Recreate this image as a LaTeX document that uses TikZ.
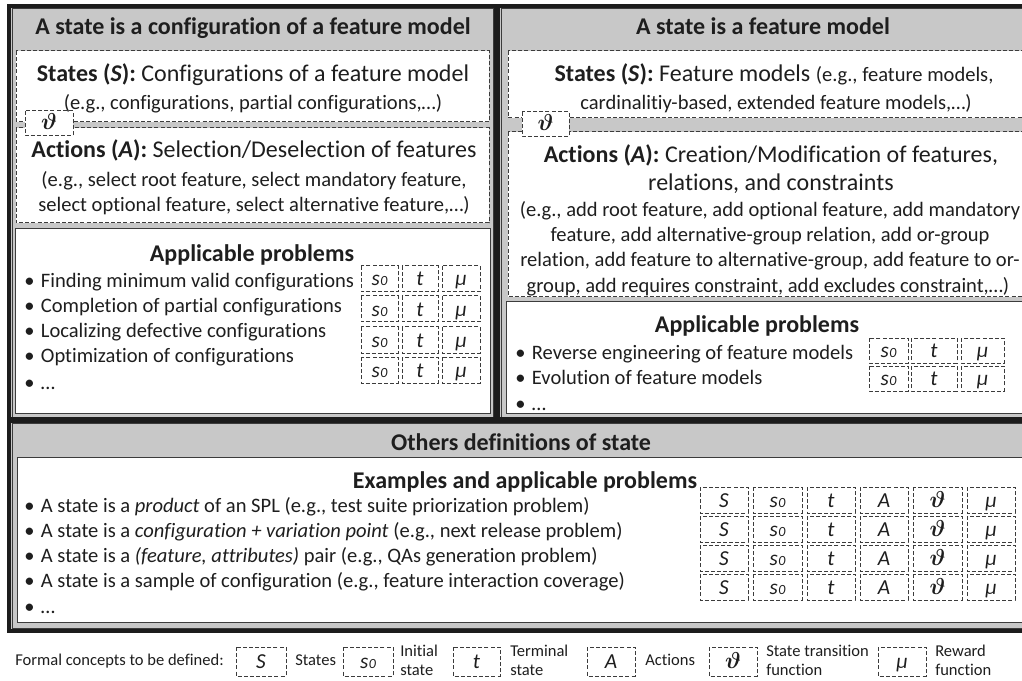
\documentclass[tikz,border=0pt]{standalone}
\usepackage{fontspec}
\setmainfont{Carlito}[Ligatures=NoCommon]

\definecolor{panelgray}{RGB}{200,200,200}
\definecolor{framedark}{RGB}{28,28,28}
\definecolor{edgegray}{RGB}{60,60,60}
\definecolor{inkgray}{RGB}{30,30,30}

% font sizes (1px = 0.75pt)
\newcommand\fhead{\fontsize{18pt}{21pt}\selectfont\bfseries}
\newcommand\fbig{\fontsize{18pt}{21pt}\selectfont}
\newcommand\fbody{\fontsize{15.4pt}{18.75pt}\selectfont}
\newcommand\fsym{\fontsize{16pt}{18pt}\selectfont\itshape}
\newcommand\flegend{\fontsize{12.4pt}{14pt}\selectfont}

% formal-concept symbols
\newcommand\symS{S}
\newcommand\symso{s\kern0.4pt{\fontsize{10.5pt}{10.5pt}\selectfont 0}}
\newcommand\symt{t}
\newcommand\symA{A}
\newcommand\symth{{\boldmath$\vartheta$}}
\newcommand\symmu{μ}

\tikzset{
  panelfill/.style={fill=panelgray},
  paneledge/.style={draw=edgegray, line width=0.75pt},
  heavyrule/.style={draw=framedark, line width=3pt},
  dashbox/.style={draw=edgegray, line width=0.75pt, dash pattern=on 3pt off 1.6pt, fill=white},
  solidbox/.style={draw=edgegray, line width=0.75pt, fill=white},
  txt/.style={inner sep=0pt, anchor=base, text=inkgray},
  item/.style={inner sep=0pt, anchor=base west, text=inkgray, font=\fbody},
  symtext/.style={inner sep=0pt, anchor=base, text=inkgray, font=\fsym},
  legtext/.style={inner sep=0pt, anchor=base west, text=inkgray, font=\flegend},
}

% dashed cell with a symbol set on a common baseline: name, x1, y1, x2, y2, symbol
\newcommand\cellbox[6]{%
  \draw[dashbox] (#2,#3) rectangle (#4,#5);
  \node[symtext] (#1) at ({(#2+#4)/2},{(#3+#5)/2+7}) {#6};}

\newcommand\bul{\makebox[12.5pt][l]{•}}

\begin{document}
\begin{tikzpicture}[x=0.75pt,y=-0.75pt]
\useasboundingbox (0,0) rectangle (1022,681);
\fill[white] (0,0) rectangle (1022,681);
\begin{scope}
\clip (0,0) rectangle (1022,681);

% ---------- frame and panels ----------
\fill[panelfill] (9,6) rectangle (1034,631);
\draw[paneledge] (12,9) rectangle (493,417);
\draw[paneledge] (501,9) rectangle (1031,417);
\draw[paneledge] (12,423) rectangle (1031,628);
\draw[heavyrule] (9,6) rectangle (1034,631);
\draw[heavyrule, line width=4.5pt] (497,6) -- (497,420);
\draw[heavyrule, line width=3.8pt] (9,420) -- (1034,420);

% ---------- left panel: configurations ----------
\draw[dashbox] (16,51) rectangle (489,122);
\draw[dashbox] (16,128) rectangle (489,223);
\draw[dashbox] (25,111) rectangle (73,136);
\node[symtext] (lth) at (49,130) {\symth};
\draw[solidbox] (15,229) rectangle (490,413);

\node[txt,font=\fhead] (lhead) at (253,35) {A state is a configuration of a feature model};
\node[txt,font=\fbig] (lstates) at (253,82) {\textbf{States (\textit{S}):} Configurations of a feature model};
\node[txt,font=\fbody] (lstateseg) at (253,110) {(e.g., configurations, partial configurations,…)};
\node[txt,font=\fbig] (lactions) at (254,158) {\textbf{Actions (\textit{A}):} Selection/Deselection of features};
\node[txt,font=\fbody] (lacteg1) at (254,187) {(e.g., select root feature, select mandatory feature,};
\node[txt,font=\fbody] (lacteg2) at (254,212) {select optional feature, select alternative feature,…)};
\node[txt,font=\fhead] (lprob) at (252,262) {Applicable problems};

\node[item] (lp1) at (24,287) {\bul Finding minimum valid configurations};
\node[item] (lp2) at (24,312) {\bul Completion of partial configurations};
\node[item] (lp3) at (24,337) {\bul Localizing defective configurations};
\node[item] (lp4) at (24,362) {\bul Optimization of configurations};
\node[item] (lp5) at (24,389) {\bul …};

\cellbox{la1}{361}{266}{398}{292}{\symso}
\cellbox{la2}{402}{266}{438}{292}{\symt}
\cellbox{la3}{442}{266}{480}{292}{\symmu}
\cellbox{lb1}{361}{296}{398}{322}{\symso}
\cellbox{lb2}{402}{296}{438}{322}{\symt}
\cellbox{lb3}{442}{296}{480}{322}{\symmu}
\cellbox{lc1}{361}{327}{398}{353}{\symso}
\cellbox{lc2}{402}{327}{438}{353}{\symt}
\cellbox{lc3}{442}{327}{480}{353}{\symmu}
\cellbox{ld1}{361}{357}{398}{383}{\symso}
\cellbox{ld2}{402}{357}{438}{383}{\symt}
\cellbox{ld3}{442}{357}{480}{383}{\symmu}

% ---------- right panel: feature models ----------
\draw[dashbox] (508,51) rectangle (1040,118);
\draw[dashbox] (508,132) rectangle (1040,297);
\draw[dashbox] (522,112) rectangle (569,137);
\node[symtext] (rth) at (545.5,131) {\symth};
\draw[solidbox] (506,302) rectangle (1040,413);

\node[txt,font=\fhead] (rhead) at (763,35) {A state is a feature model};
\node[txt,font=\fbig] (rstates) at (774,82) {\textbf{States (\textit{S}):} Feature models {\fbody (e.g., feature models,}};
\node[txt,font=\fbody] (rstateseg) at (776,110) {cardinalitiy-based, extended feature models,…)};
\node[txt,font=\fbig] (ractions) at (771,163) {\textbf{Actions (\textit{A}):} Creation/Modification of features,};
\node[txt,font=\fbig] (ractions2) at (771,191) {relations, and constraints};
\node[txt,font=\fbody] (racteg1) at (770,217) {(e.g., add root feature, add optional feature, add mandatory};
\node[txt,font=\fbody] (racteg2) at (770,242) {feature, add alternative-group relation, add or-group};
\node[txt,font=\fbody] (racteg3) at (770,267) {relation, add feature to alternative-group, add feature to or-};
\node[txt,font=\fbody] (racteg4) at (768,292) {group, add requires constraint, add excludes constraint,…)};
\node[txt,font=\fhead] (rprob) at (757,333) {Applicable problems};

\node[item] (rp1) at (515,359) {\bul Reverse engineering of feature models};
\node[item] (rp2) at (515,384) {\bul Evolution of feature models};
\node[item] (rp3) at (515,410) {\bul …};

\cellbox{ra1}{869}{338}{908}{363}{\symso}
\cellbox{ra2}{911}{338}{957}{363}{\symt}
\cellbox{ra3}{961}{338}{1004}{363}{\symmu}
\cellbox{rb1}{869}{366}{908}{391}{\symso}
\cellbox{rb2}{911}{366}{957}{391}{\symt}
\cellbox{rb3}{961}{366}{1004}{391}{\symmu}

% ---------- bottom panel: other definitions ----------
\draw[solidbox] (17,457) rectangle (1040,622);
\node[txt,font=\fhead] (bhead) at (521,450) {Others definitions of state};
\node[txt,font=\fhead] (bex) at (525,488) {Examples and applicable problems};

\node[item] (bp1) at (24,512) {\bul A state is a \textit{product} of an SPL (e.g., test suite priorization problem)};
\node[item] (bp2) at (24,537) {\bul A state is a \textit{configuration + variation point} (e.g., next release problem)};
\node[item] (bp3) at (24,562) {\bul A state is a \textit{(feature, attributes)} pair (e.g., QAs generation problem)};
\node[item] (bp4) at (24,587) {\bul A state is a sample of configuration (e.g., feature interaction coverage)};
\node[item] (bp5) at (24,613) {\bul …};

\foreach \r/\ya/\yb in {1/487/513, 2/516/542, 3/545/571, 4/574/600}{
  \cellbox{bS\r}{700}{\ya}{748}{\yb}{\symS}
  \cellbox{bs\r}{753}{\ya}{802}{\yb}{\symso}
  \cellbox{bt\r}{807}{\ya}{855}{\yb}{\symt}
  \cellbox{bA\r}{860}{\ya}{908}{\yb}{\symA}
  \cellbox{bh\r}{913}{\ya}{962}{\yb}{\symth}
  \cellbox{bm\r}{967}{\ya}{1015}{\yb}{\symmu}
}
\end{scope}

% ---------- legend ----------
\node[legtext] (legtitle) at (15,665) {Formal concepts to be defined:};
\cellbox{gS}{236}{647}{286}{676}{\symS}
\node[legtext] (gSl) at (295,665) {States};
\cellbox{gs}{343}{647}{393}{676}{\symso}
\node[legtext] (gsl1) at (400,656) {Initial};
\node[legtext] (gsl2) at (400,675) {state};
\cellbox{gt}{453}{647}{500}{676}{\symt}
\node[legtext] (gtl1) at (510,656) {Terminal};
\node[legtext] (gtl2) at (510,675) {state};
\cellbox{gA}{587}{647}{635}{676}{\symA}
\node[legtext] (gAl) at (645,665) {Actions};
\cellbox{gh}{709}{647}{757}{676}{\symth}
\node[legtext] (ghl1) at (766,656) {State transition};
\node[legtext] (ghl2) at (766,675) {function};
\cellbox{gm}{878}{647}{926}{676}{\symmu}
\node[legtext] (gml1) at (935,656) {Reward};
\node[legtext] (gml2) at (935,675) {function};
\end{tikzpicture}
\end{document}
